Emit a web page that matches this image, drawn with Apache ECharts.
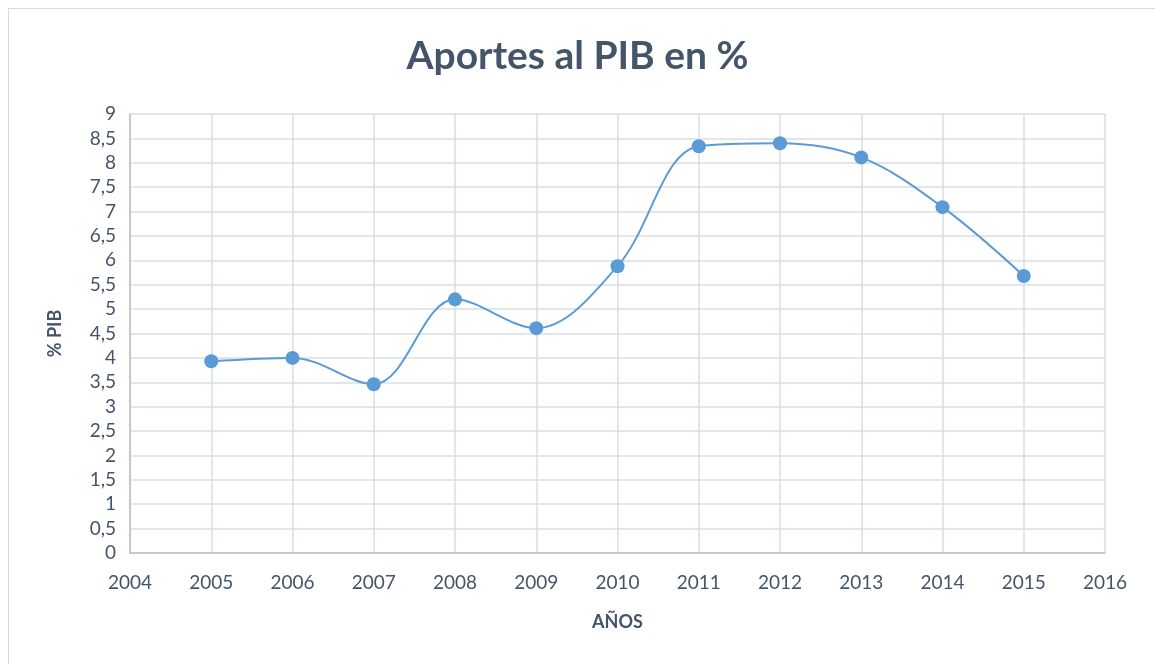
<!DOCTYPE html>
<html>
<head>
<meta charset="utf-8">
<script src="https://cdn.jsdelivr.net/npm/echarts@6/dist/echarts.min.js"></script>
<style>
html,body{margin:0;padding:0;background:#fff;}
#frame{position:absolute;left:8px;top:8px;width:1160px;height:670px;border:1px solid #d9d9d9;}
#chart{position:absolute;left:0;top:0;width:1155px;height:664px;}
</style>
</head>
<body>
<div id="frame"></div>
<div id="chart"></div>
<script>
// Aportes al PIB en %
var years = [2005, 2006, 2007, 2008, 2009, 2010, 2011, 2012, 2013, 2014, 2015];
var pib = [3.93, 4.0, 3.46, 5.2, 4.61, 5.88, 8.34, 8.4, 8.11, 7.09, 5.68];

function initPibChart(){
	var data = [];
	for (var i = 0; i < years.length; i++) {
		data.push([years[i], pib[i]]);
	}
	var chart = echarts.init(document.getElementById('chart'));
	chart.setOption({
		animation: false,
		textStyle: { fontFamily: 'Lato' },
		title: {
			text: 'Aportes al PIB en %',
			left: 'center',
			top: 32,
			textStyle: { fontSize: 39, fontWeight: 'bold', color: '#44546a', fontFamily: 'Lato' }
		},
		grid: {
			left: 130,
			right: 50,
			top: 114,
			bottom: 111,
			containLabel: false
		},
		xAxis: {
			type: 'value',
			min: 2004,
			max: 2016,
			interval: 1,
			name: 'AÑOS',
			nameLocation: 'middle',
			nameGap: 60,
			nameTextStyle: { fontSize: 18, fontWeight: 'bold', color: '#44546a' },
			axisLine: { show: true, lineStyle: { color: '#bfbfbf', width: 1.5 } },
			axisTick: { show: false },
			axisLabel: {
				fontSize: 19,
				color: '#44546a',
				margin: 20,
				formatter: function (v) { return String(v); }
			},
			splitLine: { show: true, lineStyle: { color: '#d9dde4', width: 1.5 } }
		},
		yAxis: {
			type: 'value',
			min: 0,
			max: 9,
			interval: 0.5,
			name: '% PIB',
			nameLocation: 'middle',
			nameGap: 66,
			nameTextStyle: { fontSize: 18, fontWeight: 'bold', color: '#44546a' },
			axisLine: { show: true, lineStyle: { color: '#bfbfbf', width: 1.5 } },
			axisTick: { show: false },
			axisLabel: {
				fontSize: 19,
				color: '#44546a',
				margin: 14,
				formatter: function (v) { return String(v).replace('.', ','); }
			},
			splitLine: { show: true, lineStyle: { color: '#d9dde4', width: 1.5 } }
		},
		series: [{
			name: '% PIB',
			type: 'line',
			smooth: 0.35,
			data: data,
			symbol: 'circle',
			symbolSize: 14,
			itemStyle: { color: '#5b9bd5' },
			lineStyle: { color: '#5b9bd5', width: 2 }
		}]
	});
}

initPibChart();
</script>
</body>
</html>
